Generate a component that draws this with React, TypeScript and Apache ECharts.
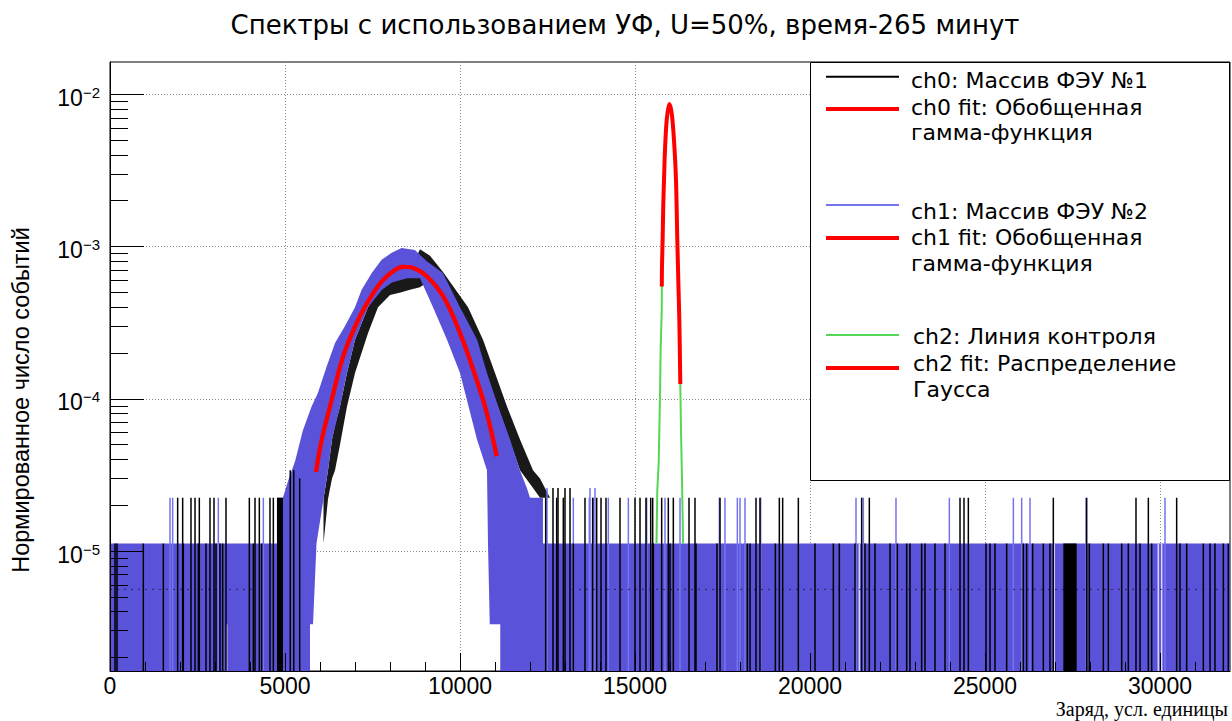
import React, { useEffect, useRef } from 'react';
import * as echarts from 'echarts';

// ---------------- texts ----------------
const TITLE = 'Спектры с использованием УФ, U=50%, время-265 минут';
const X_NAME = 'Заряд, усл. единицы';
const Y_NAME = 'Нормированное число событий';

const S_CH0 = 'ch0: Массив ФЭУ №1';
const S_CH0_FIT = 'ch0 fit: Обобщенная гамма-функция';
const S_CH1 = 'ch1: Массив ФЭУ №2';
const S_CH1_FIT = 'ch1 fit: Обобщенная гамма-функция';
const S_CH2 = 'ch2: Линия контроля';
const S_CH2_FIT = 'ch2 fit: Распределение Гаусса';

const LEGEND_LINES: Record<string, string[]> = {
  [S_CH0]: ['ch0: Массив ФЭУ №1'],
  [S_CH0_FIT]: ['ch0 fit: Обобщенная', 'гамма-функция'],
  [S_CH1]: ['ch1: Массив ФЭУ №2'],
  [S_CH1_FIT]: ['ch1 fit: Обобщенная', 'гамма-функция'],
  [S_CH2]: ['ch2: Линия контроля'],
  [S_CH2_FIT]: ['ch2 fit: Распределение', 'Гаусса'],
};

// ---------------- axes ----------------
const X_MIN = 0;
const X_MAX = 32000;
const X_MAJOR = [0, 5000, 10000, 15000, 20000, 25000, 30000];
const X_MINOR_STEP = 1000;
const Y_MIN = 1.63e-6;
const Y_MAX = 1.63e-2;
const Y_DECADES = [1e-5, 1e-4, 1e-3, 1e-2];
const Y_MINOR_BASES = [1e-6, 1e-5, 1e-4, 1e-3];
const Y_MINOR_MULT = [2, 3, 4, 5, 6, 7, 8, 9];

// ---------------- data (normalized counts) ----------------
// ch1 (blue, filled): upper and lower edges of the filled band, [charge, value]; 0 = empty bin
const ch1High = [
  [0, 1.12e-5], [4770, 1.12e-5], [4770, 2.24e-5], [4940, 2.24e-5], [5090, 2.9e-5],
  [5290, 3.9e-5], [5510, 6.2e-5], [5760, 8.9e-5], [5940, 1.09e-4], [6190, 1.63e-4],
  [6430, 2.33e-4], [6710, 3.0e-4], [7000, 4.0e-4], [7190, 5.2e-4], [7480, 6.7e-4],
  [7760, 8.2e-4], [8050, 9.1e-4], [8330, 9.8e-4], [8710, 9.5e-4], [9050, 8.0e-4],
  [9510, 6.7e-4], [10000, 4.0e-4], [10490, 2.44e-4], [10770, 1.48e-4], [11090, 8.9e-5],
  [11430, 5.4e-5], [11710, 3.4e-5], [11910, 2.6e-5], [12000, 2.24e-5], [12370, 2.24e-5],
  [12370, 1.12e-5], [32000, 1.12e-5],
];
const ch1Low = [
  [0, 0], [5714, 0], [5714, 3.3e-6], [5800, 3.3e-6], [5900, 1.12e-5], [6229, 3.4e-5],
  [6343, 5.4e-5], [6571, 8.9e-5], [6771, 1.48e-4], [7000, 2.44e-4], [7371, 4.0e-4],
  [7771, 5.2e-4], [8057, 5.8e-4], [8486, 6.2e-4], [8857, 6.2e-4], [9229, 4.0e-4],
  [9629, 2.44e-4], [10000, 1.48e-4], [10486, 5.4e-5], [10771, 3.4e-5], [10800, 1.12e-5],
  [10850, 3.3e-6], [11150, 3.3e-6], [11150, 0], [32000, 0],
];
// ch1 single bins sticking above the flat level
const ch1Spikes = [
  [1714, 2.24e-5], [1790, 2.24e-5], [3095, 2.24e-5], [4381, 2.24e-5], [12486, 2.6e-5],
  [13238, 2.24e-5], [13695, 2.24e-5], [13714, 2.6e-5], [13810, 2.24e-5], [13857, 2.6e-5],
  [14238, 2.24e-5], [14810, 2.24e-5], [15333, 2.24e-5], [15857, 2.24e-5], [16286, 2.24e-5],
  [17410, 2.24e-5], [17571, 2.24e-5], [17924, 2.24e-5], [18000, 2.24e-5], [18143, 2.24e-5],
  [18590, 2.24e-5], [21314, 2.24e-5], [21524, 2.24e-5], [22457, 2.24e-5], [23981, 2.24e-5],
  [25810, 2.24e-5], [26048, 2.24e-5], [26286, 2.24e-5], [27886, 2.24e-5], [30143, 2.24e-5],
];
// ch1 empty bins inside the flat level
const ch1Gaps = [
  [3333, 3.3e-6], [21410, 1.12e-5], [26981, 1.12e-5], [29952, 1.12e-5], [30048, 1.12e-5],
];

// ch0 (black line): fluctuation band around the peak, [charge, low, high]
const ch0Band = [
  [6100, 1.12e-5, 2.2e-5], [6229, 2.2e-5, 3.4e-5], [6343, 3.0e-5, 5.4e-5], [6429, 3.4e-5, 6.7e-5],
  [6571, 5.0e-5, 8.9e-5], [6771, 8.9e-5, 1.48e-4], [7000, 1.48e-4, 2.44e-4], [7371, 2.7e-4, 4.0e-4],
  [7657, 4.0e-4, 5.0e-4], [8000, 4.8e-4, 5.9e-4], [8300, 5.0e-4, 6.5e-4], [8571, 5.2e-4, 7.0e-4],
  [8857, 5.4e-4, 9.6e-4], [9143, 6.0e-4, 8.7e-4], [9514, 5.2e-4, 6.8e-4], [9900, 4.0e-4, 5.1e-4],
  [10229, 2.8e-4, 4.0e-4], [10657, 1.7e-4, 2.44e-4], [11000, 1.0e-4, 1.48e-4], [11343, 6.0e-5, 8.9e-5],
  [11714, 3.4e-5, 5.4e-5], [12086, 2.6e-5, 3.4e-5], [12286, 2.24e-5, 3.0e-5], [12571, 2.24e-5, 2.24e-5],
];
// ch0 single bins (vertical steps down to empty bins)
const ch0Spikes = [
  [143, 1.12e-5], [200, 1.12e-5], [952, 1.12e-5], [1524, 1.12e-5], [1933, 2.24e-5], [2076, 2.24e-5],
  [2095, 1.12e-5], [2314, 2.24e-5], [2429, 2.24e-5], [2524, 1.12e-5], [2552, 2.24e-5], [2743, 1.12e-5],
  [2857, 2.24e-5], [2971, 2.24e-5], [3029, 1.12e-5], [3143, 1.12e-5], [3219, 1.12e-5], [3314, 2.24e-5],
  [3981, 2.24e-5], [4095, 1.12e-5], [4143, 2.24e-5], [4267, 2.24e-5], [4333, 1.12e-5], [4571, 2.24e-5],
  [4667, 2.24e-5], [5150, 3.4e-5], [5250, 3.4e-5], [5420, 3.0e-5],
  [12448, 2.24e-5], [12657, 2.6e-5], [12762, 2.24e-5], [12800, 2.6e-5], [12952, 2.24e-5], [13000, 2.6e-5],
  [13143, 2.6e-5], [13238, 1.12e-5], [13571, 2.24e-5], [13790, 2.24e-5], [13905, 2.24e-5], [14029, 2.24e-5],
  [14171, 2.24e-5], [14571, 2.24e-5], [15000, 2.24e-5], [15143, 2.24e-5], [15314, 2.24e-5], [15448, 2.24e-5],
  [15505, 2.24e-5], [15524, 1.12e-5], [15762, 2.24e-5], [15952, 2.24e-5], [16000, 1.12e-5], [16095, 2.24e-5],
  [16543, 2.24e-5], [16714, 2.24e-5], [16743, 1.12e-5], [17343, 1.12e-5], [17429, 2.24e-5], [18210, 1.12e-5],
  [18286, 1.12e-5], [18457, 2.24e-5], [18571, 2.24e-5], [19010, 1.12e-5], [19124, 2.24e-5], [19219, 2.24e-5],
  [19667, 2.24e-5], [20143, 1.12e-5], [20667, 1.12e-5], [20838, 1.12e-5], [21286, 1.12e-5], [21476, 2.24e-5],
  [21571, 1.12e-5], [21695, 2.24e-5], [21857, 1.12e-5], [22286, 1.12e-5], [22495, 1.12e-5], [22762, 1.12e-5],
  [22857, 1.12e-5], [23190, 1.12e-5], [23286, 1.12e-5], [23571, 1.12e-5], [23857, 1.12e-5], [24286, 2.24e-5],
  [24400, 2.24e-5], [24524, 2.24e-5], [25029, 1.12e-5], [25143, 1.12e-5], [25286, 1.12e-5], [25619, 1.12e-5],
  [26095, 1.12e-5], [26190, 1.12e-5], [26362, 1.12e-5], [26667, 1.12e-5], [26857, 1.12e-5], [26952, 2.24e-5],
  [27905, 2.24e-5], [27981, 1.12e-5], [28381, 1.12e-5], [28524, 1.12e-5], [28905, 1.12e-5], [29095, 1.12e-5],
  [29314, 2.24e-5], [29429, 1.12e-5], [29667, 2.24e-5], [29762, 1.12e-5], [30476, 2.24e-5], [30571, 1.12e-5],
  [30762, 1.12e-5], [31238, 1.12e-5], [31429, 1.12e-5], [31571, 1.12e-5], [31810, 1.12e-5], [31952, 1.12e-5],
];
// ch0 runs of dense steps, [from, to, value]
const ch0Blocks = [
  [4771, 4943, 2.24e-5],
  [27238, 27619, 1.12e-5],
];
// faint dotted trace seen inside the flat level, [charge, value] pairs of two segments
const flatTraceA = [[0, 5.6e-6], [4100, 5.6e-6]];
const flatTraceB = [[13200, 5.6e-6], [32000, 5.6e-6]];

// ch2 (green) control line
const ch2Line = [
  [15614, 1.12e-5], [15637, 2.5e-5], [15677, 3.8e-5], [15714, 1.03e-4], [15734, 2.2e-4],
  [15763, 3.66e-4], [15771, 7.4e-4], [15791, 1.16e-3], [15809, 1.93e-3], [15829, 2.74e-3],
  [15857, 4.31e-3], [15906, 6.78e-3], [15980, 8.64e-3], [16049, 7.5e-3], [16114, 5.0e-3],
  [16171, 2.74e-3], [16209, 1.1e-3], [16237, 6.0e-4], [16266, 3.3e-4], [16286, 1.72e-4],
  [16294, 1.25e-4], [16314, 6.25e-5], [16343, 2.93e-5], [16363, 1.6e-5], [16371, 1.12e-5],
];

// fits
const ch0Fit = [
  [5886, 3.31e-5], [6049, 5.37e-5], [6334, 9.84e-5], [6649, 1.86e-4], [7000, 2.98e-4],
  [7371, 4.35e-4], [7763, 5.89e-4], [8143, 7.02e-4], [8380, 7.38e-4], [8700, 7.2e-4],
  [9049, 6.4e-4], [9523, 4.7e-4], [10000, 2.71e-4], [10477, 1.33e-4], [10763, 8.1e-5],
  [11049, 4.2e-5],
];
const ch1Fit = [
  [5886, 3.31e-5], [6049, 5.37e-5], [6334, 9.84e-5], [6649, 1.86e-4], [7000, 2.98e-4],
  [7371, 4.35e-4], [7763, 5.89e-4], [8143, 7.02e-4], [8380, 7.38e-4], [8700, 7.2e-4],
  [9049, 6.4e-4], [9523, 4.7e-4], [10000, 2.71e-4], [10477, 1.33e-4], [10763, 8.1e-5],
  [11049, 4.2e-5],
];
const ch2Fit = [
  [15766, 5.46e-4], [15771, 7.38e-4], [15791, 1.16e-3], [15809, 1.93e-3], [15829, 2.74e-3],
  [15857, 4.31e-3], [15906, 6.78e-3], [15980, 8.64e-3], [16049, 7.5e-3], [16114, 5.01e-3],
  [16171, 2.74e-3], [16209, 1.1e-3], [16237, 6.04e-4], [16266, 3.3e-4], [16286, 1.72e-4],
  [16294, 1.25e-4],
];

// ---------------- styles ----------------
const SANS = 'Liberation Sans';
const VERDANA = 'DejaVu Sans';
const SERIF = 'Liberation Serif';
const BLUE_FILL = '#5a52d8';
const BLUE_LINE = '#7474ee';
const GREEN = '#55d655';
const RED = '#ff0000';
const GRID_LINE = { color: '#8c8c8c', type: [1, 2], width: 1 };

const floorOf = (v: number) => (v > 0 ? v : Y_MIN);

function bandRenderer(high: number[][], low: number[][], fill: string, opacity: number) {
  return (_p: any, api: any) => {
    const pts: number[][] = [];
    for (const [x, v] of high) pts.push(api.coord([x, floorOf(v)]));
    for (let i = low.length - 1; i >= 0; i--) pts.push(api.coord([low[i][0], floorOf(low[i][1])]));
    return { type: 'polygon', shape: { points: pts }, style: { fill, opacity } };
  };
}

function spikeRenderer(stroke: string, width: number) {
  return (_p: any, api: any) => {
    const x = api.value(0);
    const v = api.value(1);
    const top = api.coord([x, v]);
    const bot = api.coord([x, Y_MIN]);
    return {
      type: 'line',
      shape: { x1: top[0], y1: top[1], x2: bot[0], y2: bot[1] },
      style: { stroke, lineWidth: width },
    };
  };
}

function blockRenderer(fill: string) {
  return (_p: any, api: any) => {
    const a = api.coord([api.value(0), api.value(2)]);
    const b = api.coord([api.value(1), Y_MIN]);
    return {
      type: 'rect',
      shape: { x: a[0], y: a[1], width: b[0] - a[0], height: b[1] - a[1] },
      style: { fill },
    };
  };
}

// one legend per entry; a thin spacer line (g) shifts the first text line against the icon
function legendFor(name: string, color: string, top: number, itemHeight: number,
  spacer: number, padLeft: number, lineHeight: number) {
  return {
    data: [{ name, itemStyle: { color } }],
    left: 826,
    top,
    orient: 'vertical',
    padding: 0,
    itemWidth: 73,
    itemHeight,
    icon: 'rect',
    selectedMode: false,
    z: 10,
    formatter: (n: string) => ['{g| }'].concat(LEGEND_LINES[n].map((l) => `{t|${l}}`)).join('\n'),
    textStyle: {
      color: '#000',
      rich: {
        g: { fontSize: 1, lineHeight: spacer, height: spacer },
        t: {
          fontFamily: VERDANA, fontSize: 22, color: '#000', lineHeight,
          padding: [0, 0, 0, padLeft],
        },
      },
    },
  };
}

function buildOption() {
  const xMinor: number[] = [];
  for (let v = X_MIN + X_MINOR_STEP; v < X_MAX; v += X_MINOR_STEP) {
    if (X_MAJOR.indexOf(v) < 0) xMinor.push(v);
  }
  const yMinor: number[] = [];
  Y_MINOR_BASES.forEach((b) => Y_MINOR_MULT.forEach((m) => yMinor.push(+(b * m).toPrecision(3))));

  const ch0High = ch0Band.map((t) => [t[0], t[2]]);
  const ch0Low = ch0Band.map((t) => [t[0], t[1]]);

  const plainX = {
    type: 'value', min: X_MIN, max: X_MAX, position: 'bottom', gridIndex: 0,
  };
  const plainY = {
    type: 'log', logBase: 10, min: Y_MIN, max: Y_MAX, position: 'left', gridIndex: 0,
  };
  const traceStyle = { color: '#1a1a40', width: 1, type: [2, 5], opacity: 0.8 };

  return {
    animation: false,
    backgroundColor: '#fff',
    title: {
      text: TITLE,
      left: 625,
      top: 12,
      padding: 0,
      textAlign: 'center',
      textStyle: { fontFamily: VERDANA, fontSize: 26, fontWeight: 'normal', color: '#000' },
    },
    grid: {
      left: 110, top: 62, width: 1120, height: 609,
      show: true, borderColor: '#000', borderWidth: 1, backgroundColor: 'transparent',
      containLabel: false, outerBoundsMode: 'none',
    },
    xAxis: [
      {
        ...plainX, z: 0,
        axisLine: { show: false, onZero: false },
        axisTick: { show: false, customValues: X_MAJOR },
        axisLabel: {
          customValues: X_MAJOR, fontFamily: SANS, fontSize: 23, lineHeight: 22, color: '#000', margin: 4,
          formatter: (v: number) => String(v),
        },
        splitLine: { show: true, lineStyle: GRID_LINE },
      },
      {
        ...plainX, z: 6,
        axisLine: { show: true, onZero: false, lineStyle: { color: '#000', width: 1 } },
        axisTick: { show: true, inside: true, length: 18, customValues: X_MAJOR, lineStyle: { color: '#000' } },
        axisLabel: { show: false },
        splitLine: { show: false },
      },
      {
        ...plainX, z: 6,
        axisLine: { show: false, onZero: false },
        axisTick: { show: true, inside: true, length: 9, customValues: xMinor, lineStyle: { color: '#000' } },
        axisLabel: { show: false },
        splitLine: { show: false },
      },
    ],
    yAxis: [
      {
        ...plainY, z: 0,
        axisLine: { show: false, onZero: false },
        axisTick: { show: false, customValues: Y_DECADES },
        axisLabel: {
          customValues: Y_DECADES,
          margin: 10,
          padding: [7, 0, 0, 0],
          formatter: (v: number) => `{b|10}{s|−${Math.round(-Math.log10(v))}}`,
          rich: {
            b: { fontFamily: SANS, fontSize: 23, color: '#000', lineHeight: 26 },
            s: { fontFamily: SANS, fontSize: 15, color: '#000', lineHeight: 15, verticalAlign: 'top' },
          },
        },
        splitLine: { show: true, lineStyle: GRID_LINE },
        name: Y_NAME,
        nameLocation: 'middle',
        nameGap: 78,
        nameRotate: 90,
        nameTextStyle: {
          fontFamily: SANS, fontSize: 23.5, lineHeight: 23, color: '#000', padding: [0, 67, 0, 0],
        },
      },
      {
        ...plainY, z: 6,
        axisLine: { show: true, onZero: false, lineStyle: { color: '#000', width: 1 } },
        axisTick: { show: true, inside: true, length: 34, customValues: Y_DECADES, lineStyle: { color: '#000' } },
        axisLabel: { show: false },
        splitLine: { show: false },
      },
      {
        ...plainY, z: 6,
        axisLine: { show: false, onZero: false },
        axisTick: { show: true, inside: true, length: 18, customValues: yMinor, lineStyle: { color: '#000' } },
        axisLabel: { show: false },
        splitLine: { show: false },
      },
    ],
    legend: [
      legendFor(S_CH0, '#000000', 60.2, 2, 8, 7, 25),
      legendFor(S_CH0_FIT, RED, 73, 4, 22, 7, 25),
      legendFor(S_CH1, BLUE_LINE, 186, 2, 13, 7, 25),
      legendFor(S_CH1_FIT, RED, 199.5, 4, 25, 7, 26),
      legendFor(S_CH2, GREEN, 321.5, 2, 2, 9, 25),
      legendFor(S_CH2_FIT, RED, 334, 4, 16, 9, 26),
    ],
    graphic: [
      {
        type: 'rect',
        z: 9,
        shape: { x: 810.5, y: 62.5, width: 419, height: 418 },
        style: { fill: '#fff', stroke: '#000', lineWidth: 1 },
      },
      {
        type: 'text',
        z: 9,
        right: 4,
        top: 698,
        style: { text: X_NAME, fontFamily: SERIF, fontSize: 20, lineHeight: 22, fill: '#000' },
      },
    ],
    series: [
      {
        type: 'custom', name: S_CH0, z: 1, silent: true,
        itemStyle: { color: '#000' },
        data: [[X_MIN, Y_MIN]],
        renderItem: bandRenderer(ch0High, ch0Low, '#000', 0.9),
      },
      {
        type: 'custom', name: S_CH1, z: 2, silent: true,
        itemStyle: { color: BLUE_FILL },
        data: [[X_MIN, Y_MIN]],
        renderItem: bandRenderer(ch1High, ch1Low, BLUE_FILL, 1),
      },
      {
        type: 'custom', name: S_CH1, z: 2, silent: true,
        itemStyle: { color: BLUE_FILL },
        data: ch1Spikes,
        renderItem: spikeRenderer(BLUE_LINE, 1.5),
      },
      {
        type: 'custom', name: S_CH1, z: 2, silent: true,
        itemStyle: { color: BLUE_FILL },
        data: ch1Gaps,
        renderItem: spikeRenderer('#d8d6f6', 1.5),
      },
      {
        type: 'line', name: S_CH1, z: 2, silent: true,
        data: flatTraceA, showSymbol: false, symbol: 'none', lineStyle: traceStyle,
      },
      {
        type: 'line', name: S_CH1, z: 2, silent: true,
        data: flatTraceB, showSymbol: false, symbol: 'none', lineStyle: traceStyle,
      },
      {
        type: 'custom', name: S_CH0, z: 3, silent: true,
        itemStyle: { color: '#000' },
        data: ch0Spikes,
        renderItem: spikeRenderer('#000', 1.5),
      },
      {
        type: 'custom', name: S_CH0, z: 3, silent: true,
        itemStyle: { color: '#000' },
        encode: { x: [0, 1], y: 2 },
        data: ch0Blocks,
        renderItem: blockRenderer('#000'),
      },
      {
        type: 'line', name: S_CH2, z: 4, silent: true,
        data: ch2Line, showSymbol: false, symbol: 'none',
        lineStyle: { color: GREEN, width: 2 }, itemStyle: { color: GREEN },
      },
      {
        type: 'line', name: S_CH0_FIT, z: 5, silent: true,
        data: ch0Fit, showSymbol: false, symbol: 'none', smooth: 0.4,
        lineStyle: { color: RED, width: 4 }, itemStyle: { color: RED },
      },
      {
        type: 'line', name: S_CH1_FIT, z: 5, silent: true,
        data: ch1Fit, showSymbol: false, symbol: 'none', smooth: 0.4,
        lineStyle: { color: RED, width: 4 }, itemStyle: { color: RED },
      },
      {
        type: 'line', name: S_CH2_FIT, z: 5, silent: true,
        data: ch2Fit, showSymbol: false, symbol: 'none', smooth: 0.3,
        lineStyle: { color: RED, width: 4 }, itemStyle: { color: RED },
      },
    ],
  };
}

export default function App() {
  const ref = useRef<HTMLDivElement>(null);
  useEffect(() => {
    if (!ref.current) return undefined;
    const chart = echarts.init(ref.current, null, { renderer: 'svg' });
    chart.setOption(buildOption() as any);
    return () => chart.dispose();
  }, []);
  return (
    <div
      ref={ref}
      style={{ position: 'fixed', left: 0, top: 0, width: 1232, height: 721, background: '#fff' }}
    />
  );
}
